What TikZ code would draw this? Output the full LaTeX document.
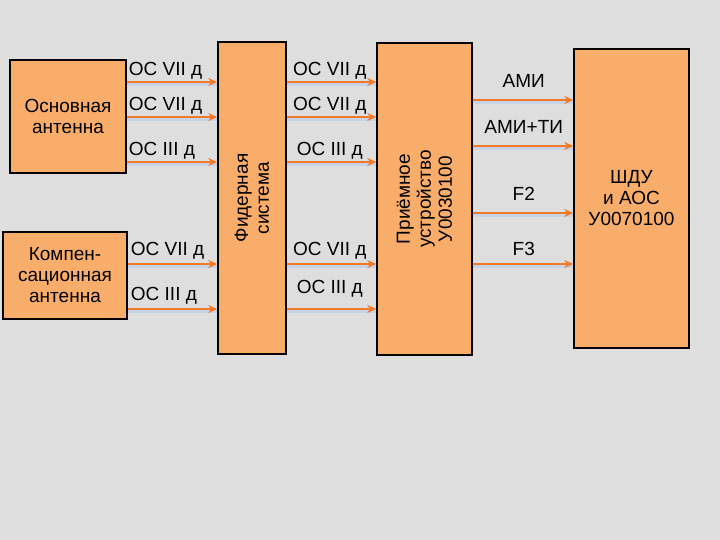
\documentclass[tikz,border=0pt]{standalone}
\usepackage{fontspec}
\setmainfont{Liberation Sans}
\usetikzlibrary{arrows.meta}
\definecolor{boxf}{HTML}{F8AE6A}
\definecolor{arr}{HTML}{F07A28}
\definecolor{shad}{HTML}{C8D4E6}
\definecolor{bg}{HTML}{DEDEDE}
\begin{document}
\begin{tikzpicture}[x=1pt,y=-1pt,
  box/.style={draw=black,line width=1.5pt,fill=boxf,inner sep=0pt},
  lab/.style={font=\fontsize{19}{21}\selectfont,align=center},
  sl/.style={font=\fontsize{19}{20}\selectfont,inner sep=0pt},
  ar/.style={draw=arr,line width=2.5pt,-{Stealth[length=9pt,width=8pt]},
    preaction={draw=shad,line width=2.5pt,transform canvas={yshift=-2.5pt},-{}}}]
\useasboundingbox (0,0) rectangle (720,540);
\fill[bg] (0,0) rectangle (720,540);
\node[box,minimum width=116pt,minimum height=113pt,lab] (osn) at (68,116.5) {Основная\\антенна};
\node[box,minimum width=124pt,minimum height=87pt,lab] (komp) at (65,275.5) {Компен-\\сационная\\антенна};
\node[box,minimum width=68pt,minimum height=312pt] (fid) at (252,198) {};
\node[lab,rotate=90] at (fid.center) {Фидерная\\система};
\node[box,minimum width=95pt,minimum height=312pt] (pri) at (424.5,199) {};
\node[lab,rotate=90] at (pri.center) {Приёмное\\устройство\\У0030100};
\node[box,minimum width=115pt,minimum height=299pt,lab] (shdu) at (631.5,198.5) {ШДУ\\и АОС\\У0070100};
% left arrows
\foreach \y/\t in {82/{ОС VII д},117/{ОС VII д},162/{ОС III д}}{
  \coordinate (a) at (osn.east |- 0,\y); \coordinate (b) at (fid.west |- 0,\y);
  \draw[ar] (a) -- (b);
  \node[sl,anchor=south west] at ([xshift=2pt,yshift=3pt]a) {\t};}
\foreach \y/\t in {264/{ОС VII д},309/{ОС III д}}{
  \coordinate (a) at (komp.east |- 0,\y); \coordinate (b) at (fid.west |- 0,\y);
  \draw[ar] (a) -- (b);
  \node[sl,anchor=south west] at ([xshift=3pt,yshift=5pt]a) {\t};}
% middle arrows
\foreach \y/\t/\d in {82/{ОС VII д}/3,117/{ОС VII д}/3,162/{ОС III д}/3,264/{ОС VII д}/5,309/{ОС III д}/12}{
  \coordinate (a) at (fid.east |- 0,\y); \coordinate (b) at (pri.west |- 0,\y);
  \draw[ar] (a) -- (b);
  \node[sl,anchor=south] at ([xshift=43pt,yshift=\d pt]a) {\t};}
% right arrows
\foreach \y/\t/\d in {100/{АМИ}/12,146/{АМИ+ТИ}/12,213/{F2}/12,264/{F3}/8}{
  \coordinate (a) at (pri.east |- 0,\y); \coordinate (b) at (shdu.west |- 0,\y);
  \draw[ar] (a) -- (b);
  \node[sl,anchor=south] at ([xshift=51pt,yshift=\d pt]a) {\t};}
\end{tikzpicture}
\end{document}
